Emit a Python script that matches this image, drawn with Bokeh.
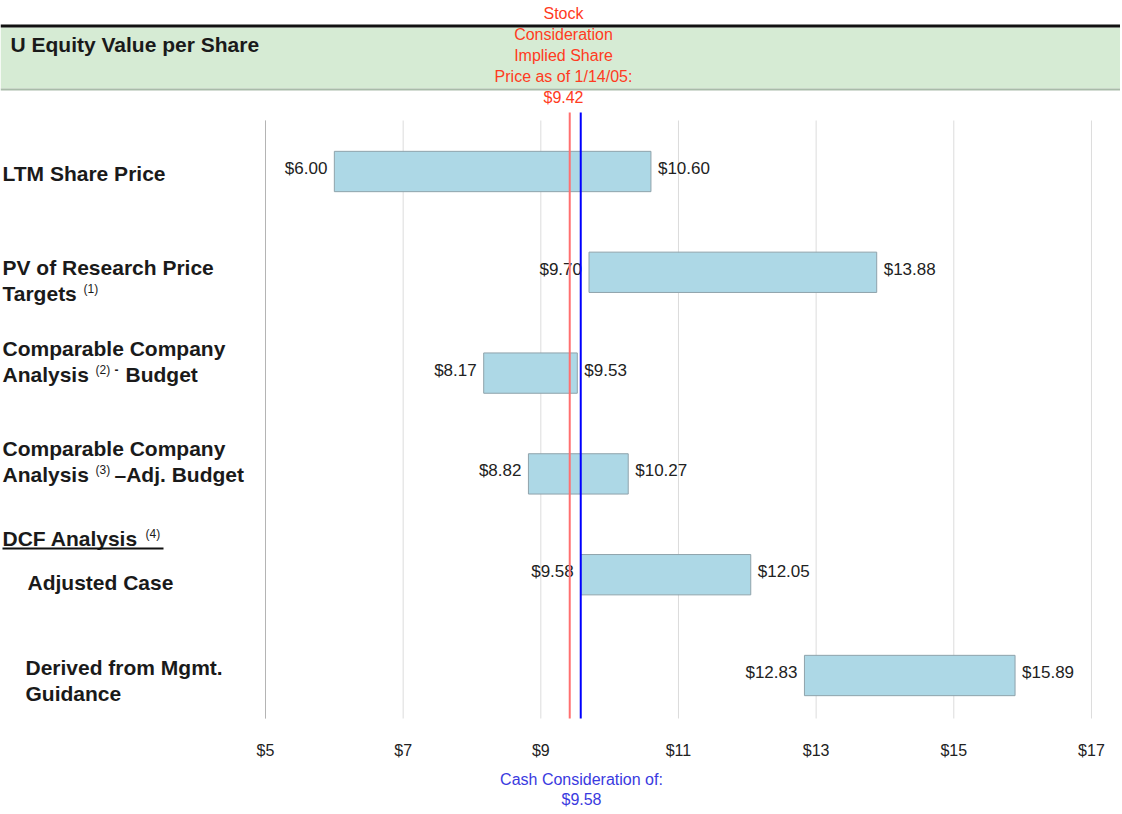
from bokeh.plotting import figure
from bokeh.models import Range1d, Label, BoxAnnotation, ColumnDataSource
from bokeh.core.properties import value
from bokeh.embed import file_html
from bokeh.resources import INLINE

# ---------------- data ----------------
categories = ["LTM Share Price",
              "PV of Research Price Targets (1)",
              "Comparable Company Analysis (2) - Budget",
              "Comparable Company Analysis (3) -Adj. Budget",
              "DCF Analysis (4): Adjusted Case",
              "DCF Analysis (4): Derived from Mgmt. Guidance"]
row_pos = [0, 1, 2, 3, 4, 5]
low_vals = [6.00, 9.70, 8.17, 8.82, 9.58, 12.83]
high_vals = [10.60, 13.88, 9.53, 10.27, 12.05, 15.89]
low_labels = ["$6.00", "$9.70", "$8.17", "$8.82", "$9.58", "$12.83"]
high_labels = ["$10.60", "$13.88", "$9.53", "$10.27", "$12.05", "$15.89"]
tick_values = [5, 7, 9, 11, 13, 15, 17]
tick_labels = ["$5", "$7", "$9", "$11", "$13", "$15", "$17"]
stock_price = [9.42]
cash_price = [9.58]

FONT = "Liberation Sans"
W, H = 1120, 812


# page px -> data helpers (layout placement only)
def fx(px):
    return 5 + (px - 265) / 68.83


def fy(py):
    return (py - 171) / 100.8


p = figure(width=W, height=H, min_border=0,
           x_range=Range1d(fx(0), fx(W)), y_range=Range1d(fy(H), fy(0)),
           output_backend="svg", toolbar_location=None,
           background_fill_color="white", border_fill_color="white",
           outline_line_color=None)
p.axis.visible = False
p.grid.visible = False

GRID_TOP, GRID_BOT = fy(120), fy(718)

# header band
p.add_layout(BoxAnnotation(top=fy(27), bottom=fy(88),
                           fill_color="#d6ebd4", fill_alpha=1, line_color=None))
p.add_layout(BoxAnnotation(top=fy(24), bottom=fy(27),
                           fill_color="#111111", fill_alpha=1, line_color=None))
p.add_layout(BoxAnnotation(top=fy(88), bottom=fy(90),
                           fill_color="#a9bba9", fill_alpha=1, line_color=None))

# vertical grid lines + tick labels (from tick values)
gsrc = ColumnDataSource(dict(x=tick_values, lab=tick_labels,
                             y0=[GRID_TOP] * len(tick_values),
                             y1=[GRID_BOT] * len(tick_values),
                             yl=[fy(750)] * len(tick_values)))
p.segment(x0="x", x1="x", y0="y0", y1="y1", source=gsrc,
          line_color="#dcdcdc", line_width=1)
p.segment(x0=tick_values[:1], x1=tick_values[:1], y0=[GRID_TOP], y1=[GRID_BOT],
          line_color="#b4b4b4", line_width=1)
p.text(x="x", y="yl", text="lab", source=gsrc, text_align="center",
       text_baseline="middle", text_font=value(FONT), text_font_size="16px",
       text_color="#222222")

# bars
src = ColumnDataSource(dict(y=row_pos, low=low_vals, high=high_vals,
                            ll=low_labels, hl=high_labels, cat=categories))
p.hbar(y="y", left="low", right="high", height=0.4, source=src,
       fill_color="#add8e6", line_color="#8fa3ab", line_width=1)

p.text(x="low", y="y", text="ll", source=src, x_offset=-7, y_offset=-3,
       text_align="right", text_baseline="middle",
       text_font=value(FONT), text_font_size="17px", text_color="#222222")
p.text(x="high", y="y", text="hl", source=src, x_offset=7, y_offset=-3,
       text_align="left", text_baseline="middle",
       text_font=value(FONT), text_font_size="17px", text_color="#222222")

# reference lines
p.segment(x0=stock_price, x1=stock_price, y0=[fy(112)], y1=[GRID_BOT],
          line_color="#ff7070", line_width=2)
p.segment(x0=cash_price, x1=cash_price, y0=[fy(112)], y1=[GRID_BOT],
          line_color="#0000ff", line_width=2)


def lab(text, px, py, size="21px", style="bold", color="#1a1a1a", align="left"):
    p.add_layout(Label(x=fx(px), y=fy(py), text=text, text_align=align,
                       text_baseline="middle", text_font=FONT,
                       text_font_size=size, text_font_style=style,
                       text_color=color))


lab("U Equity Value per Share", 10, 44)

# red annotation
red = "#ff3b22"
for t, py in zip(["Stock", "Consideration", "Implied Share",
                  "Price as of 1/14/05:", "$9.42"], [13, 34, 55, 76, 97]):
    lab(t, 563, py, size="16px", style="normal", color=red, align="center")

# blue annotation
blue = "#3a3ae0"
lab("Cash Consideration of:", 581, 779, size="16px", style="normal", color=blue, align="center")
lab("$9.58", 581, 799, size="16px", style="normal", color=blue, align="center")

# row labels
lab("LTM Share Price", 2, 173)
lab("PV of Research Price", 2, 267)
lab("Targets", 2, 293)
lab("(1)", 83, 288, size="12px", style="normal")
lab("Comparable Company", 2, 348)
lab("Analysis", 2, 374)
lab("(2)", 95, 369, size="12px", style="normal")
lab("-", 114, 369, size="12px", style="bold")
lab("Budget", 125, 374)
lab("Comparable Company", 2, 448)
lab("Analysis", 2, 474)
lab("(3)", 95, 469, size="12px", style="normal")
lab("\u2013Adj. Budget", 114, 474)
lab("DCF Analysis", 2, 538)
lab("(4)", 145, 533, size="12px", style="normal")
p.add_layout(BoxAnnotation(left=fx(2), right=fx(163), top=fy(547), bottom=fy(549),
                           fill_color="#111111", fill_alpha=1, line_color=None))
lab("Adjusted Case", 27, 582)
lab("Derived from Mgmt.", 25, 667)
lab("Guidance", 25, 693)

open("out.html", "w").write(file_html(p, INLINE))
